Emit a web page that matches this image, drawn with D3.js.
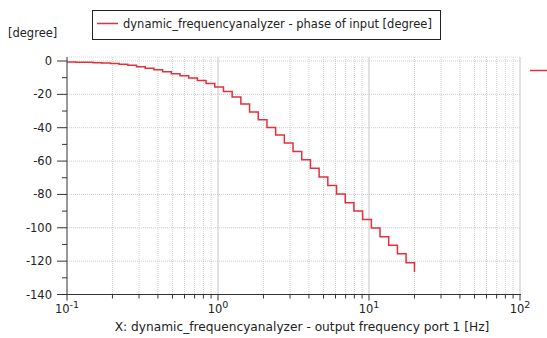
<!DOCTYPE html>
<html>
<head>
<meta charset="utf-8">
<script src="https://cdn.jsdelivr.net/npm/d3@7"></script>
<style>
  body { margin: 0; background: #fff; }
  text { font-family: Tahoma, "DejaVu Sans", sans-serif; fill: #222; }
</style>
</head>
<body>
<div id="chart"></div>
<script>
{
const freqs = [0.1, 0.1142, 0.1303, 0.1488, 0.1699, 0.194, 0.2215, 0.2529, 0.2887, 0.3297,
  0.3764, 0.4297, 0.4907, 0.5602, 0.6397, 0.7303, 0.8339, 0.9521, 1.087, 1.241,
  1.417, 1.618, 1.848, 2.11, 2.409, 2.75, 3.14, 3.585, 4.094, 4.674,
  5.337, 6.094, 6.958, 7.945, 9.071, 10.36, 11.83, 13.5, 15.42, 17.6, 20.0];
// phase [degree]
const phase = [-0.6, -0.7, -0.8, -1.0, -1.2, -1.5, -2.0, -2.6, -3.4, -4.3,
  -5.3, -6.5, -7.7, -8.9, -10.2, -11.7, -13.5, -15.6, -18.3, -21.6,
  -25.8, -30.6, -35.2, -39.8, -44.4, -49.2, -54.2, -59.2, -64.3, -69.5,
  -74.6, -79.8, -85.0, -90.0, -95.0, -100.2, -105.3, -110.4, -115.6, -121.0, -126.5];
const yTicks = [0, -20, -40, -60, -80, -100, -120, -140];
const xDecades = [-1, 0, 1, 2];

const width = 547, height = 338;
const left = 67, right = 520, top = 57, bottom = 294.5;

const svg = d3.select('#chart').append('svg')
    .attr('width', width)
    .attr('height', height);

const x = d3.scaleLog().domain([0.1, 100]).range([left, right]);
const y = d3.scaleLinear().domain([-140, 0]).range([bottom, 61]);

// grid
const minorX = [];
xDecades.slice(0, -1).forEach(e => {
    for (let k = 2; k <= 9; k++) minorX.push(k * Math.pow(10, e));
});
const grid = svg.append('g');
grid.selectAll('.minx').data(minorX).enter().append('line')
    .attr('x1', d => x(d)).attr('x2', d => x(d))
    .attr('y1', top).attr('y2', bottom)
    .attr('stroke', '#cfcfcf').attr('stroke-dasharray', '1,1');
grid.selectAll('.majx').data(xDecades.slice(1)).enter().append('line')
    .attr('x1', d => x(Math.pow(10, d))).attr('x2', d => x(Math.pow(10, d)))
    .attr('y1', top).attr('y2', bottom)
    .attr('stroke', '#c4c4c4');
grid.selectAll('.majy').data(yTicks.slice(0, -1)).enter().append('line')
    .attr('x1', left).attr('x2', right)
    .attr('y1', d => y(d)).attr('y2', d => y(d))
    .attr('stroke', '#cccccc').attr('stroke-dasharray', '1,1');
grid.append('line')
    .attr('x1', left).attr('x2', right).attr('y1', top).attr('y2', top)
    .attr('stroke', '#dcdcdc').attr('stroke-dasharray', '1,1');

// curve
const data = freqs.map((f, i) => ({f: f, v: phase[i]}));
svg.append('path')
    .datum(data)
    .attr('fill', 'none')
    .attr('stroke', '#e3303c')
    .attr('stroke-width', 1.5)
    .attr('d', d3.line().x(d => x(d.f)).y(d => y(d.v)).curve(d3.curveStepAfter));

// axes
const axisColor = '#333';
svg.append('line').attr('x1', left).attr('x2', left).attr('y1', top).attr('y2', bottom)
    .attr('stroke', axisColor);
svg.append('line').attr('x1', left).attr('x2', right + 1).attr('y1', bottom).attr('y2', bottom)
    .attr('stroke', axisColor);

const minorY = d3.range(-130, 0, 20);
svg.selectAll('.ytick').data(yTicks).enter().append('line')
    .attr('x1', left - 10).attr('x2', left)
    .attr('y1', d => y(d)).attr('y2', d => y(d))
    .attr('stroke', axisColor);
svg.selectAll('.yminor').data(minorY).enter().append('line')
    .attr('x1', left - 5).attr('x2', left)
    .attr('y1', d => y(d)).attr('y2', d => y(d))
    .attr('stroke', axisColor);
svg.selectAll('.ylab').data(yTicks).enter().append('text')
    .attr('x', 52).attr('y', d => y(d) + 4)
    .attr('text-anchor', 'end')
    .style('font-size', '11.5px')
    .text(d => d);

svg.selectAll('.xtick').data(xDecades).enter().append('line')
    .attr('x1', d => x(Math.pow(10, d))).attr('x2', d => x(Math.pow(10, d)))
    .attr('y1', bottom).attr('y2', bottom + 6)
    .attr('stroke', axisColor);
svg.selectAll('.xminor').data(minorX).enter().append('line')
    .attr('x1', d => x(d)).attr('x2', d => x(d))
    .attr('y1', bottom).attr('y2', bottom + 4)
    .attr('stroke', axisColor);
const xl = svg.selectAll('.xlab').data(xDecades).enter().append('text')
    .attr('x', d => x(Math.pow(10, d)))
    .attr('y', 313)
    .attr('text-anchor', 'middle')
    .style('font-size', '11.5px');
xl.append('tspan').text('10');
xl.append('tspan').attr('dy', -5).style('font-size', '9.5px').text(d => d);

svg.append('text')
    .attr('x', 302).attr('y', 331)
    .attr('text-anchor', 'middle')
    .style('font-size', '12.2px')
    .text('X: dynamic_frequencyanalyzer - output frequency port 1 [Hz]');

svg.append('text')
    .attr('x', 8).attr('y', 37)
    .style('font-size', '11.5px')
    .text('[degree]');

// legend
svg.append('rect')
    .attr('x', 92.5).attr('y', 10.5).attr('width', 348).attr('height', 29)
    .attr('fill', '#fff').attr('stroke', '#222');
svg.append('line').attr('x1', 97).attr('x2', 118).attr('y1', 23.5).attr('y2', 23.5)
    .attr('stroke', '#e3303c').attr('stroke-width', 1.5);
svg.append('text')
    .attr('x', 123).attr('y', 28)
    .style('font-size', '11.5px')
    .text('dynamic_frequencyanalyzer - phase of input [degree]');

svg.append('line').attr('x1', 530).attr('x2', 547).attr('y1', 70.5).attr('y2', 70.5)
    .attr('stroke', '#e3303c').attr('stroke-width', 1.5);
}
</script>
</body>
</html>
